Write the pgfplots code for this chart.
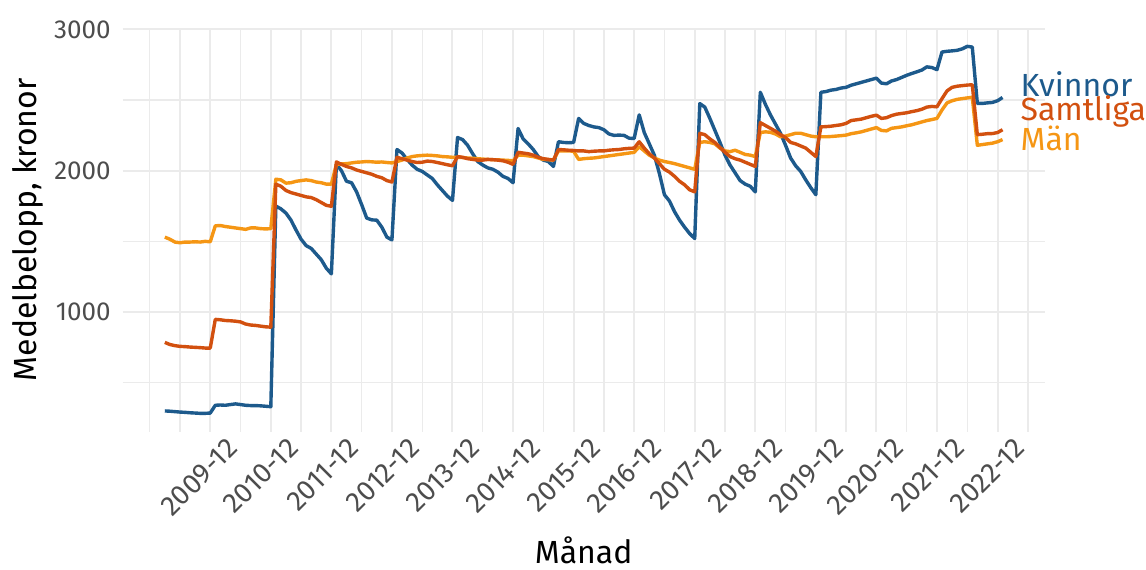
\documentclass[border=0pt]{standalone}
\usepackage{pgfplots}
\usepackage{pgfplotstable}
\pgfplotsset{compat=1.18}
\usepackage{fontspec}
\setmainfont{Fira Sans}
\definecolor{cK}{HTML}{1D5A8C}
\definecolor{cS}{HTML}{D2500F}
\definecolor{cM}{HTML}{F59614}
\definecolor{tickgray}{HTML}{4D4D4D}
\definecolor{gridgray}{HTML}{EBEBEB}
\pgfplotstableread{
m K S M
2 300 785 1530
3 298 770 1515
4 295 762 1495
5 292 757 1490
6 290 755 1495
7 287 752 1495
8 285 750 1497
9 283 748 1495
10 283 745 1500
11 285 745 1497
12 340 948 1610
13 342 945 1612
14 340 940 1605
15 345 938 1600
16 350 935 1595
17 345 930 1590
18 340 915 1585
19 338 908 1595
20 338 905 1595
21 336 900 1590
22 333 895 1588
23 330 893 1590
24 1750 1905 1940
25 1730 1890 1935
26 1700 1860 1912
27 1650 1845 1915
28 1580 1835 1925
29 1515 1825 1930
30 1470 1815 1935
31 1450 1810 1930
32 1410 1795 1920
33 1370 1775 1915
34 1310 1755 1905
35 1270 1748 1905
36 2045 2062 2045
37 2000 2045 2048
38 1925 2030 2050
39 1915 2020 2055
40 1850 2005 2060
41 1760 1995 2062
42 1665 1985 2065
43 1652 1975 2063
44 1650 1960 2060
45 1600 1950 2062
46 1530 1930 2058
47 1510 1920 2055
48 2150 2095 2065
49 2125 2085 2075
50 2080 2075 2090
51 2040 2065 2100
52 2010 2058 2105
53 1995 2060 2108
54 1970 2068 2110
55 1945 2065 2108
56 1900 2058 2105
57 1860 2050 2100
58 1820 2042 2098
59 1790 2035 2095
60 2235 2100 2095
61 2220 2095 2093
62 2180 2085 2090
63 2120 2080 2088
64 2065 2075 2085
65 2040 2075 2082
66 2020 2080 2080
67 2010 2078 2078
68 1990 2075 2077
69 1960 2070 2075
70 1945 2060 2073
71 1915 2045 2070
72 2299 2130 2110
73 2225 2125 2110
74 2190 2120 2105
75 2150 2110 2100
76 2100 2095 2090
77 2075 2085 2080
78 2065 2080 2078
79 2030 2075 2075
80 2205 2150 2140
81 2200 2148 2140
82 2198 2145 2140
83 2200 2143 2138
84 2370 2140 2080
85 2335 2140 2085
86 2320 2135 2088
87 2310 2138 2090
88 2305 2140 2095
89 2290 2140 2100
90 2260 2145 2105
91 2250 2148 2110
92 2252 2150 2115
93 2250 2155 2120
94 2230 2158 2125
95 2228 2160 2130
96 2395 2205 2170
97 2270 2160 2140
98 2190 2120 2110
99 2110 2090 2090
100 1980 2050 2075
101 1830 2010 2065
102 1785 1990 2058
103 1710 1960 2050
104 1650 1925 2040
105 1600 1900 2030
106 1555 1865 2020
107 1520 1850 2010
108 2475 2265 2200
109 2450 2255 2205
110 2370 2225 2200
111 2285 2200 2190
112 2200 2165 2160
113 2110 2130 2140
114 2040 2100 2135
115 1985 2085 2145
116 1930 2075 2130
117 1905 2060 2115
118 1890 2045 2110
119 1850 2030 2100
120 2555 2340 2270
121 2470 2320 2275
122 2395 2300 2272
123 2330 2280 2260
124 2265 2255 2240
125 2180 2235 2245
126 2090 2200 2255
127 2035 2190 2265
128 1995 2175 2265
129 1935 2160 2255
130 1880 2130 2245
131 1830 2100 2240
132 2555 2310 2240
133 2560 2312 2240
134 2570 2315 2242
135 2575 2320 2245
136 2585 2325 2248
137 2590 2335 2252
138 2605 2355 2262
139 2615 2360 2268
140 2625 2365 2275
141 2635 2375 2285
142 2645 2385 2295
143 2655 2393 2305
144 2620 2370 2285
145 2615 2375 2282
146 2635 2390 2300
147 2645 2400 2305
148 2660 2405 2310
149 2675 2410 2318
150 2688 2418 2325
151 2700 2425 2335
152 2712 2435 2345
153 2735 2450 2355
154 2730 2455 2362
155 2715 2452 2370
156 2840 2510 2430
157 2845 2565 2480
158 2848 2590 2495
159 2852 2598 2505
160 2862 2602 2510
161 2880 2606 2515
162 2875 2608 2520
163 2476 2255 2180
164 2476 2258 2185
165 2480 2262 2190
166 2483 2263 2195
167 2495 2270 2205
168 2518 2290 2220
}\datatable
\begin{document}
\begin{tikzpicture}
\begin{axis}[
  name=ax,
  scale only axis,
  width=461pt, height=202pt,
  xmin=-6.35, xmax=176.35,
  ymin=153, ymax=3012,
  axis line style={draw=none},
  tick style={draw=none},
  xtick={11,23,35,47,59,71,83,95,107,119,131,143,155,167},
  xticklabels={2009-12,2010-12,2011-12,2012-12,2013-12,2014-12,2015-12,2016-12,2017-12,2018-12,2019-12,2020-12,2021-12,2022-12},
  minor xtick={-1,5,17,29,41,53,65,77,89,101,113,125,137,149,161,173},
  ytick={1000,2000,3000},
  minor ytick={500,1500,2500},
  grid=both,
  major grid style={draw=gridgray, line width=1pt},
  minor grid style={draw=gridgray, line width=0.7pt},
  /pgf/number format/assume math mode=true,
  /pgf/number format/1000 sep={},
  ticklabel style={font=\fontsize{13}{15}\selectfont, text=tickgray},
  yticklabel style={anchor=east, inner sep=0pt, xshift=-5.8pt},
  xticklabel style={font=\fontsize{14}{16}\selectfont, rotate=45, anchor=north east, inner sep=0pt, xshift=4pt, yshift=-7pt},
  xlabel={Månad},
  ylabel={Medelbelopp, kronor},
  label style={font=\fontsize{16}{19}\selectfont},
  xlabel style={at={(axis description cs:0.5,-0.325)}, anchor=base},
  ylabel style={at={(axis description cs:-0.094,0.5)}, anchor=base},
  clip=false,
]
\addplot[cK, line width=1.7pt, line join=round] table[x=m, y=K] {\datatable};
\addplot[cM, line width=1.7pt, line join=round] table[x=m, y=M] {\datatable};
\addplot[cS, line width=1.7pt, line join=round] table[x=m, y=S] {\datatable};
\node[anchor=base west, inner sep=0pt, text=cK, font=\fontsize{16}{19}\selectfont] at (axis cs:171.5,2523) {Kvinnor};
\node[anchor=base west, inner sep=0pt, text=cS, font=\fontsize{16}{19}\selectfont] at (axis cs:171.5,2353) {Samtliga};
\node[anchor=base west, inner sep=0pt, text=cM, font=\fontsize{16}{19}\selectfont] at (axis cs:171.5,2140) {Män};
\end{axis}
\pgfresetboundingbox
\path (ax.south west) ++(-61.35pt,-68.65pt) rectangle ++(573pt,284.5pt);
\end{tikzpicture}
\end{document}
